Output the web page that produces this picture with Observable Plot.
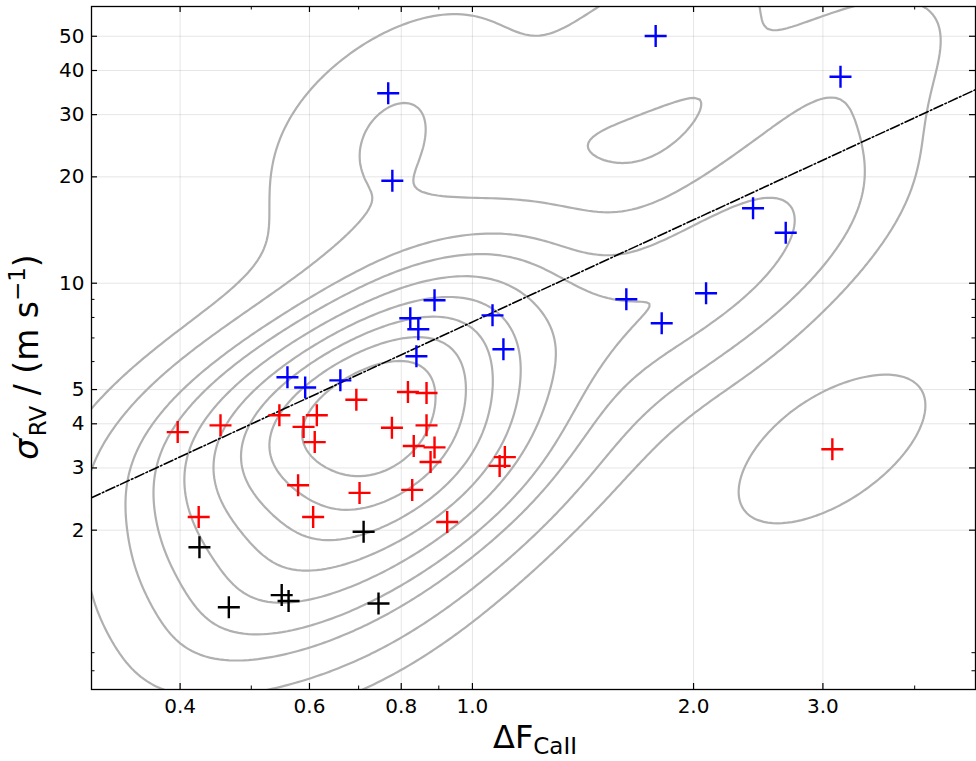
<!DOCTYPE html>
<html><head><meta charset="utf-8">
<script src="https://cdn.jsdelivr.net/npm/d3@7"></script>
<script src="https://cdn.jsdelivr.net/npm/@observablehq/plot@0.6"></script>
<style>body{margin:0;background:#fff} svg{display:block}</style>
</head><body><div id="chart"></div>
<script>
// ---- data ----
const bluePoints = [
  [0.768, 34.5], [0.778, 19.5], [1.776, 50.1], [3.17, 38.4], [2.41, 16.3], [2.67, 13.9],
  [1.62, 9.01], [2.08, 9.37], [1.81, 7.70], [1.065, 8.11], [1.102, 6.50], [0.888, 8.95],
  [0.823, 7.96], [0.844, 7.41], [0.839, 6.21], [0.560, 5.42], [0.592, 5.07], [0.661, 5.31]
];
const redPoints = [
  [0.397, 3.79], [0.454, 3.96], [0.546, 4.23], [0.614, 4.23], [0.589, 3.92], [0.610, 3.55],
  [0.695, 4.68], [0.817, 4.92], [0.866, 4.89], [0.777, 3.90], [0.866, 3.96], [0.832, 3.46],
  [0.888, 3.43], [0.877, 3.12], [1.107, 3.22], [1.089, 3.04], [0.579, 2.68], [0.702, 2.55],
  [0.828, 2.60], [0.424, 2.18], [0.607, 2.18], [0.924, 2.11], [3.09, 3.39]
];
const blackPoints = [
  [0.425, 1.79], [0.711, 1.98], [0.466, 1.21], [0.550, 1.31], [0.562, 1.26], [0.745, 1.24]
];
const fitLineX = [0.303, 4.84];
const fitLineY = [2.47, 35.3];
const xTicks = [0.4, 0.6, 0.8, 1.0, 2.0, 3.0];
const xMinorTicks = [0.5, 0.7, 0.9, 4.0];
const yTicks = [2, 3, 4, 5, 10, 20, 30, 40, 50];
const yMinorTicks = [0.8, 0.9, 6, 7, 8, 9];
const xDomain = [0.303, 4.84];
const yDomain = [0.708, 60.7];
// iso-proportion contour levels (fraction of density mass below each line)
const isoProportions = [0.05, 0.1556, 0.2611, 0.3667, 0.4722, 0.5778, 0.6833, 0.7889, 0.8944];

// ---- layout ----
const W = 976, H = 761, mL = 91, mR = 1, mT = 6, mB = 72;
const innerW = W - mL - mR, innerH = H - mT - mB;

// ---- Gaussian KDE in log-log space (Scott bandwidth, full covariance) ----
const all = [...bluePoints, ...redPoints, ...blackPoints];
const L = all.map(([x, y]) => [Math.log10(x), Math.log10(y)]);
const n = L.length;
const mx = d3.mean(L, d => d[0]), my = d3.mean(L, d => d[1]);
let sxx = 0, syy = 0, sxy = 0;
for (const [a, b] of L) { sxx += (a - mx) ** 2; syy += (b - my) ** 2; sxy += (a - mx) * (b - my); }
sxx /= (n - 1); syy /= (n - 1); sxy /= (n - 1);
const f2 = Math.pow(n, -2 / 6);
const cxx = sxx * f2, cyy = syy * f2, cxy = sxy * f2;
const det = cxx * cyy - cxy * cxy;
const ixx = cyy / det, iyy = cxx / det, ixy = -cxy / det;
const norm = 1 / (n * 2 * Math.PI * Math.sqrt(det));
function dens(a, b) {
  let s = 0;
  for (const [p, q] of L) {
    const dx = a - p, dy = b - q;
    s += Math.exp(-0.5 * (ixx * dx * dx + 2 * ixy * dx * dy + iyy * dy * dy));
  }
  return s * norm;
}
// support grid (data range +/- 3 bandwidths, 200 x 200) used to find the iso-proportion levels
const bwx = Math.sqrt(cxx), bwy = Math.sqrt(cyy);
const sx0 = d3.min(L, d => d[0]) - 3 * bwx, sx1 = d3.max(L, d => d[0]) + 3 * bwx;
const sy0 = d3.min(L, d => d[1]) - 3 * bwy, sy1 = d3.max(L, d => d[1]) + 3 * bwy;
const G = 200, support = [];
for (let j = 0; j < G; j++) for (let i = 0; i < G; i++)
  support.push(dens(sx0 + i * (sx1 - sx0) / (G - 1), sy0 + j * (sy1 - sy0) / (G - 1)));
const sortedDesc = support.slice().sort((a, b) => b - a);
const total = d3.sum(sortedDesc);
const cum = []; let acc = 0;
for (const v of sortedDesc) { acc += v; cum.push(acc / total); }
const levels = isoProportions.map(q => {
  const target = 1 - q;
  let idx = d3.bisectLeft(cum, target);
  idx = Math.min(idx, sortedDesc.length - 1);
  return sortedDesc[idx];
}).sort((a, b) => a - b);

// fine grid for drawing
const gx0 = -0.85, gx1 = 1.0, gy0 = -0.5, gy1 = 2.1, nx = 280, ny = 320;
const values = new Float64Array(nx * ny);
for (let j = 0; j < ny; j++) for (let i = 0; i < nx; i++)
  values[j * nx + i] = dens(gx0 + (i + 0.5) * (gx1 - gx0) / nx, gy0 + (j + 0.5) * (gy1 - gy0) / ny);
const contours = d3.contours().size([nx, ny]).thresholds(levels)(values);
const contourRows = [];
let rid = 0;
for (const c of contours) for (const poly of c.coordinates) for (const ring of poly) {
  rid++;
  for (const [u, v] of ring)
    contourRows.push({x: 10 ** (gx0 + u * (gx1 - gx0) / nx), y: 10 ** (gy0 + v * (gy1 - gy0) / ny), id: rid});
}

const plusSymbol = {
  draw(ctx, size) {
    const r = Math.sqrt(size / Math.PI);
    ctx.moveTo(-r, 0); ctx.lineTo(r, 0);
    ctx.moveTo(0, -r); ctx.lineTo(0, r);
  }
};
const fitLine = fitLineX.map((x, i) => ({x, y: fitLineY[i]}));
const dotOpts = (color) => ({x: d => d[0], y: d => d[1], symbol: plusSymbol, r: 11, stroke: color, strokeWidth: 2.4, fill: "none"});

const chart = Plot.plot({
  width: W, height: H,
  marginLeft: mL, marginRight: mR, marginTop: mT, marginBottom: mB,
  style: {fontFamily: "DejaVu Sans", fontSize: "20px", background: "white", color: "black"},
  x: {type: "log", domain: xDomain, ticks: xTicks, tickFormat: d => d.toFixed(1), tickSize: 0, tickPadding: 9, grid: true, label: null},
  y: {type: "log", domain: yDomain, ticks: yTicks, tickFormat: d => String(d), tickSize: 0, tickPadding: 7, grid: true, label: null},
  marks: [
    Plot.line(contourRows, {x: "x", y: "y", z: "id", stroke: "#b0b0b0", strokeWidth: 2.2, clip: true}),
    Plot.line(fitLine, {x: "x", y: "y", stroke: "black", strokeWidth: 1.6, strokeDasharray: "9.6,2.4,1.6,2.4", clip: true}),
    Plot.dot(blackPoints, dotOpts("#000000")),
    Plot.dot(redPoints, dotOpts("#ff0000")),
    Plot.dot(bluePoints, dotOpts("#0000ff")),
    Plot.tickX(xTicks, {x: d => d, insetTop: innerH - 6, stroke: "black", strokeWidth: 1.2}),
    Plot.tickX(xTicks, {x: d => d, insetBottom: innerH - 6, stroke: "black", strokeWidth: 1.2}),
    Plot.tickX(xMinorTicks, {x: d => d, insetTop: innerH - 3.5, stroke: "black", strokeWidth: 1}),
    Plot.tickX(xMinorTicks, {x: d => d, insetBottom: innerH - 3.5, stroke: "black", strokeWidth: 1}),
    Plot.tickY(yTicks, {y: d => d, insetRight: innerW - 6, stroke: "black", strokeWidth: 1.2}),
    Plot.tickY(yTicks, {y: d => d, insetLeft: innerW - 6, stroke: "black", strokeWidth: 1.2}),
    Plot.tickY(yMinorTicks, {y: d => d, insetRight: innerW - 3.5, stroke: "black", strokeWidth: 1}),
    Plot.tickY(yMinorTicks, {y: d => d, insetLeft: innerW - 3.5, stroke: "black", strokeWidth: 1}),
    Plot.frame({stroke: "black", strokeWidth: 1.3})
  ]
});

const svg = d3.select(chart);
// x-axis label
const xl = svg.append("text")
  .attr("x", 535).attr("y", 748).attr("text-anchor", "middle")
  .attr("font-family", "DejaVu Sans").attr("font-size", 32).attr("fill", "black");
xl.append("tspan").text("ΔF");
xl.append("tspan").attr("font-size", 23).attr("dy", 6).text("CaII");
// y-axis label
const yl = svg.append("text")
  .attr("transform", "translate(38,357) rotate(-90)").attr("text-anchor", "middle")
  .attr("font-family", "DejaVu Sans").attr("font-size", 33).attr("fill", "black");
yl.append("tspan").attr("font-style", "italic").text("σ");
yl.append("tspan").attr("dx", 0).attr("dy", 0).text("′");
yl.append("tspan").attr("font-size", 23).attr("dx", -5).attr("dy", 8).text("RV");
yl.append("tspan").attr("dy", -8).text(" / (m s");
yl.append("tspan").attr("font-size", 23).attr("dy", -13).text("−1");
yl.append("tspan").attr("dy", 13).text(")");

document.getElementById("chart").appendChild(chart);
</script>
</body></html>
